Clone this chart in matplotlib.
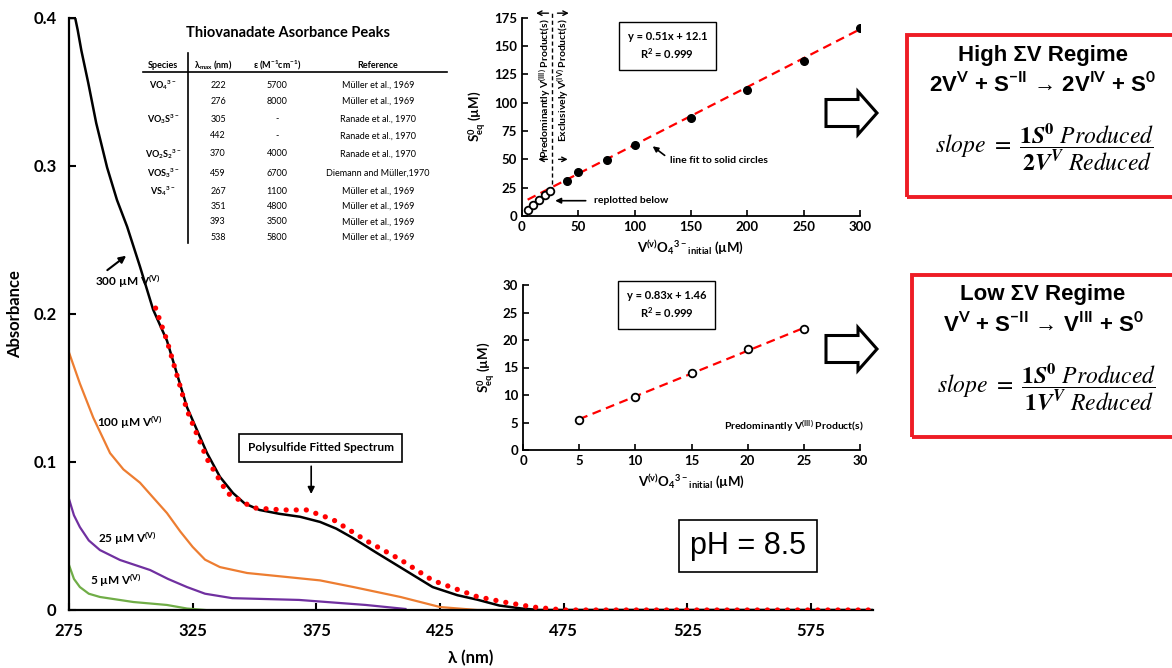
import matplotlib
matplotlib.use('Agg')
import matplotlib.pyplot as plt
from matplotlib.patches import Rectangle, FancyArrow

plt.rcParams['font.family'] = ['Lato', 'DejaVu Sans']
plt.rcParams['font.weight'] = 'normal'
plt.rcParams['axes.labelweight'] = 'bold'
plt.rcParams['mathtext.fontset'] = 'custom'
plt.rcParams['mathtext.rm'] = 'Lato:bold'
plt.rcParams['mathtext.it'] = 'Lato:bold'
plt.rcParams['mathtext.default'] = 'rm'

# --- main spectra (wavelength nm, absorbance) ---
wl_300 = [275, 277.5, 278.5, 280, 282.8, 286, 290.4, 294.4, 298.5, 303.7, 309, 314.6, 322.7, 330.8,
          336, 341.3, 346, 352, 360, 368.4, 376.5, 383, 389.8, 399, 408.8, 422, 432, 440, 449,
          458, 465, 500, 550, 600]
abs_300 = [0.4, 0.4, 0.392, 0.378, 0.356, 0.329, 0.299, 0.277, 0.259, 0.232, 0.203, 0.182, 0.137,
           0.106, 0.090, 0.079, 0.072, 0.0676, 0.065, 0.063, 0.0595, 0.055, 0.0486, 0.039, 0.029,
           0.0155, 0.010, 0.007, 0.003, 0.001, 0.0, 0.0, 0.0, 0.0]

wl_100 = [275, 279.4, 284.8, 291.6, 297, 303.7, 309, 314.6, 320, 325, 330, 336, 347, 363, 376.5,
          390, 409, 425, 440, 450]
abs_100 = [0.174, 0.153, 0.130, 0.106, 0.095, 0.086, 0.076, 0.0655, 0.053, 0.0426, 0.034, 0.029,
           0.025, 0.0223, 0.020, 0.0155, 0.0088, 0.002, 0.0, 0.0]

wl_25 = [275, 277, 279.4, 283, 287.5, 295.6, 307.8, 315, 322.7, 330, 341, 368, 395, 411]
abs_25 = [0.075, 0.064, 0.056, 0.047, 0.0405, 0.0338, 0.027, 0.021, 0.0155, 0.011, 0.008, 0.0068,
          0.0034, 0.0007]

wl_5 = [275, 277, 279.4, 283, 287.5, 301, 314.6, 322.7, 330]
abs_5 = [0.0304, 0.021, 0.0155, 0.011, 0.0088, 0.0054, 0.0034, 0.001, 0.0]

wl_fit = [310, 314.6, 322.7, 330.8, 339, 349.5, 361.5, 371, 381.8, 395, 409, 422, 440, 452,
          462.6, 475, 500, 550, 600]
abs_fit = [0.204, 0.182, 0.135, 0.102, 0.079, 0.069, 0.0676, 0.0676, 0.061, 0.047, 0.034, 0.020,
           0.009, 0.005, 0.002, 0.0, 0.0, 0.0, 0.0]

# --- inset data (uM) ---
v_high = [40, 50, 75, 100, 150, 200, 250, 300]
s_high = [31.0, 39.0, 49.7, 62.7, 86.6, 111.4, 137.2, 165.5]
v_low = [5, 10, 15, 20, 25]
s_low = [5.45, 9.7, 14.06, 18.36, 21.94]
fit_high_x = [5, 300]
fit_high_y = [14.4, 164.8]
fit_low_x = [5, 25]
fit_low_y = [5.6, 22.2]

# --- table ---
table_species = [r'VO$_4$$^{3-}$', '', r'VO$_3$S$^{3-}$', '', r'VO$_2$S$_2$$^{3-}$',
                 r'VOS$_3$$^{3-}$', r'VS$_4$$^{3-}$', '', '', '']
table_lmax = ['222', '276', '305', '442', '370', '459', '267', '351', '393', '538']
table_eps = ['5700', '8000', '-', '-', '4000', '6700', '1100', '4800', '3500', '5800']
table_ref = ['Müller et al., 1969', 'Müller et al., 1969', 'Ranade et al., 1970',
             'Ranade et al., 1970', 'Ranade et al., 1970', 'Diemann and Müller,1970',
             'Müller et al., 1969', 'Müller et al., 1969', 'Müller et al., 1969',
             'Müller et al., 1969']
table_row_y = [85, 101, 119, 136, 154, 173, 191, 206, 222, 237]

W, H = 1172, 668
fig = plt.figure(figsize=(W / 100, H / 100), dpi=100)
B = dict(fontweight='bold')


def fx(x):
    return x / W


def fy(y):
    return 1 - y / H


def bold_ticks(a):
    for lab in a.get_xticklabels() + a.get_yticklabels():
        lab.set_fontweight('bold')


# ---------------- main spectrum axes ----------------
ax = fig.add_axes([fx(69), fy(610), fx(873) - fx(69), fy(18) - fy(610)])
ax.plot(wl_5, abs_5, color='#70AD47', lw=1.6)
ax.plot(wl_25, abs_25, color='#7030A0', lw=1.6)
ax.plot(wl_100, abs_100, color='#ED7D31', lw=1.6)
ax.plot(wl_300, abs_300, color='black', lw=1.8, zorder=3)
ax.plot(wl_fit, abs_fit, color='#FF0000', lw=3.8, linestyle=(0, (0.01, 1.9)),
        dash_capstyle='round', zorder=4)
ax.set_xlim(275, 600)
ax.set_ylim(0, 0.4)
ax.set_xticks([275, 325, 375, 425, 475, 525, 575])
ax.set_yticks([0, 0.1, 0.2, 0.3, 0.4])
ax.set_yticklabels(['0', '0.1', '0.2', '0.3', '0.4'])
for s in ['top', 'right']:
    ax.spines[s].set_visible(False)
for s in ['left', 'bottom']:
    ax.spines[s].set_linewidth(1.6)
ax.tick_params(direction='in', length=5, width=1.5, labelsize=12, pad=9)
bold_ticks(ax)
ax.set_xlabel('λ (nm)', fontsize=12, labelpad=8)
ax.set_ylabel('Absorbance', fontsize=12, labelpad=7)

ax.text(285.5, 0.222, r'300 µM V$^{(V)}$', fontsize=8.5, va='center', **B)
ax.annotate('', xy=(299, 0.2405), xytext=(289.6, 0.2285),
            arrowprops=dict(arrowstyle='-|>', color='black', lw=1.5, mutation_scale=10))
ax.text(286.3, 0.127, r'100 µM V$^{(V)}$', fontsize=8.5, va='center', **B)
ax.text(286.7, 0.0486, r'25 µM V$^{(V)}$', fontsize=8.5, va='center', **B)
ax.text(283.5, 0.0203, r'5 µM V$^{(V)}$', fontsize=8.5, va='center', **B)
ax.text(376.7, 0.1095, 'Polysulfide Fitted Spectrum', fontsize=8.5, ha='center', va='center',
        bbox=dict(boxstyle='square,pad=0.7', fc='white', ec='black', lw=1.2), **B)
ax.annotate('', xy=(372.9, 0.0765), xytext=(372.9, 0.099),
            arrowprops=dict(arrowstyle='-|>', color='black', lw=1.2, mutation_scale=10))

# ---------------- table ----------------
fig.text(fx(288), fy(33), 'Thiovanadate Asorbance Peaks', fontsize=10.5, ha='center', va='center', **B)
hdr_y = fy(65)
fig.text(fx(163), hdr_y, 'Species', fontsize=6.5, ha='center', va='center', **B)
fig.text(fx(213), hdr_y, r'λ$_{max}$ (nm)', fontsize=6.5, ha='center', va='center', **B)
fig.text(fx(277), hdr_y, r'ε (M$^{-1}$cm$^{-1}$)', fontsize=6.5, ha='center', va='center', **B)
fig.text(fx(378), hdr_y, 'Reference', fontsize=6.5, ha='center', va='center', **B)
fig.add_artist(plt.Line2D([fx(143), fx(447)], [fy(72), fy(72)], color='black', lw=1.2))
fig.add_artist(plt.Line2D([fx(188), fx(188)], [fy(53), fy(243)], color='black', lw=1.2))
for sp, lm, ep, rf, ry in zip(table_species, table_lmax, table_eps, table_ref, table_row_y):
    if sp:
        fig.text(fx(163), fy(ry), sp, fontsize=6.5, ha='center', va='center', **B)
    fig.text(fx(218), fy(ry), lm, fontsize=6.5, ha='center', va='center')
    fig.text(fx(277), fy(ry), ep, fontsize=6.5, ha='center', va='center')
    fig.text(fx(378), fy(ry), rf, fontsize=6.5, ha='center', va='center')

# ---------------- top inset ----------------
ax1 = fig.add_axes([fx(522), fy(216), fx(860) - fx(522), fy(17.7) - fy(216)])
ax1.plot(fit_high_x, fit_high_y, color='#FF0000', lw=1.6, linestyle=(0, (4, 2.5)), zorder=2)
ax1.plot(v_high, s_high, 'o', color='black', ms=5.5, zorder=3)
ax1.plot(v_low, s_low, 'o', mfc='white', mec='black', mew=1.3, ms=5.5, zorder=3)
ax1.plot([27, 27], [22, 179], color='black', lw=1, linestyle=(0, (3, 2)), clip_on=False)
ax1.set_xlim(0, 300)
ax1.set_ylim(0, 175)
ax1.set_xticks(range(0, 301, 50))
ax1.set_yticks(range(0, 176, 25))
for s in ['top', 'right']:
    ax1.spines[s].set_visible(False)
for s in ['left', 'bottom']:
    ax1.spines[s].set_linewidth(1.3)
ax1.tick_params(direction='in', length=4, width=1.2, labelsize=9.5)
bold_ticks(ax1)
ax1.set_ylabel(r'S$^0_{eq}$ (µM)', fontsize=9.5, labelpad=4)
ax1.set_xlabel(r'V$^{(v)}$O$_4$$^{3-}$$_{initial}$ (µM)', fontsize=9.5, labelpad=4)
ax1.text(129, 150, 'y = 0.51x + 12.1\n' + r'R$^2$ = 0.999', fontsize=8, ha='center', va='center',
         linespacing=1.4, bbox=dict(boxstyle='square,pad=0.8', fc='white', ec='black', lw=1), **B)
ax1.text(20.5, 113, r'Predominantly V$^{(III)}$ Product(s)', fontsize=7.5, rotation=90,
         ha='center', va='center', **B)
ax1.text(36.5, 120, r'Exclusively V$^{(IV)}$ Product(s)', fontsize=7.5, rotation=90,
         ha='center', va='center', **B)
arrow_kw = dict(arrowstyle='->', color='black', lw=1, mutation_scale=8)
ax1.annotate('', xy=(10, 179), xytext=(26, 179), arrowprops=arrow_kw, annotation_clip=False)
ax1.annotate('', xy=(44, 179), xytext=(29, 179), arrowprops=arrow_kw, annotation_clip=False)
ax1.annotate('', xy=(12, 50), xytext=(25, 50), arrowprops=arrow_kw)
ax1.annotate('', xy=(43, 50), xytext=(30, 50), arrowprops=arrow_kw)
ax1.text(131.5, 48.8, 'line fit to solid circles', fontsize=7.5, va='center', **B)
ax1.annotate('', xy=(114, 63), xytext=(128.6, 52),
             arrowprops=dict(arrowstyle='-|>', color='black', lw=1.2, mutation_scale=8))
ax1.text(63.5, 13.5, 'replotted below', fontsize=7.5, va='center', **B)
ax1.annotate('', xy=(27, 13.5), xytext=(59, 13.5),
             arrowprops=dict(arrowstyle='-|>', color='black', lw=1.2, mutation_scale=8))

# ---------------- bottom inset ----------------
ax2 = fig.add_axes([fx(523), fy(450), fx(860) - fx(523), fy(285) - fy(450)])
ax2.plot(fit_low_x, fit_low_y, color='#FF0000', lw=1.6, linestyle=(0, (4, 2.5)), zorder=2)
ax2.plot(v_low, s_low, 'o', mfc='white', mec='black', mew=1.3, ms=5.5, zorder=3)
ax2.set_xlim(0, 30)
ax2.set_ylim(0, 30)
ax2.set_xticks(range(0, 31, 5))
ax2.set_yticks(range(0, 31, 5))
for s in ['top', 'right']:
    ax2.spines[s].set_visible(False)
for s in ['left', 'bottom']:
    ax2.spines[s].set_linewidth(1.3)
ax2.tick_params(direction='in', length=4, width=1.2, labelsize=9.5)
bold_ticks(ax2)
ax2.set_ylabel(r'S$^0_{eq}$ (µM)', fontsize=9.5, labelpad=4)
ax2.set_xlabel(r'V$^{(v)}$O$_4$$^{3-}$$_{initial}$ (µM)', fontsize=9.5, labelpad=4)
ax2.text(12.8, 26.4, 'y = 0.83x + 1.46\n' + r'R$^2$ = 0.999', fontsize=8, ha='center', va='center',
         linespacing=1.4, bbox=dict(boxstyle='square,pad=0.8', fc='white', ec='black', lw=1), **B)
ax2.text(30.3, 4.3, r'Predominantly V$^{(III)}$ Product(s)', fontsize=7.5, ha='right', va='center', **B)

# ---------------- block arrows ----------------
for yc in [113, 349]:
    fig.add_artist(FancyArrow(fx(826), fy(yc), fx(877) - fx(826), 0, width=27 / H,
                              head_width=43 / H, head_length=19 / W, length_includes_head=True,
                              transform=fig.transFigure, fc='white', ec='black', lw=2.2))

# ---------------- regime boxes ----------------
fig.add_artist(Rectangle((fx(907), fy(197)), 0.3, fy(35) - fy(197), transform=fig.transFigure,
                         fill=False, ec='#EE1C25', lw=2.8))
fig.add_artist(Rectangle((fx(912), fy(437)), 0.3, fy(275) - fy(437), transform=fig.transFigure,
                         fill=False, ec='#EE1C25', lw=2.8))
box_font = ['Liberation Sans', 'DejaVu Sans']
slope_hi = (r'$\mathit{slope}\ =\ \dfrac{\mathbf{1}\mathbfit{S}^{\mathbf{0}}\ \mathit{Produced}}'
            r'{\mathbf{2}\mathbfit{V}^{\mathbfit{V}}\ \mathit{Reduced}}$')
slope_lo = (r'$\mathit{slope}\ =\ \dfrac{\mathbf{1}\mathbfit{S}^{\mathbf{0}}\ \mathit{Produced}}'
            r'{\mathbf{1}\mathbfit{V}^{\mathbfit{V}}\ \mathit{Reduced}}$')
fig.text(fx(1043), fy(55), 'High ΣV Regime', fontsize=16, family=box_font, ha='center', va='center', **B)
fig.text(fx(1043), fy(85), r'2V$^V$ + S$^{-II}$ → 2V$^{IV}$ + S$^0$', fontsize=16, family=box_font,
         ha='center', va='center', **B)
fig.text(fx(1045), fy(147), slope_hi, fontsize=17, ha='center', va='center', math_fontfamily='stix')
fig.text(fx(1043), fy(295), 'Low ΣV Regime', fontsize=16, family=box_font, ha='center', va='center', **B)
fig.text(fx(1043), fy(325), r'V$^V$ + S$^{-II}$ → V$^{III}$ + S$^0$', fontsize=16, family=box_font,
         ha='center', va='center', **B)
fig.text(fx(1047), fy(387), slope_lo, fontsize=17, ha='center', va='center', math_fontfamily='stix')

# ---------------- pH box ----------------
fig.text(fx(748), fy(546), 'pH = 8.5', fontsize=22, family=box_font, ha='center', va='center',
         bbox=dict(boxstyle='square,pad=0.35', fc='white', ec='black', lw=1.2))

fig.savefig('out.png', dpi=100)
